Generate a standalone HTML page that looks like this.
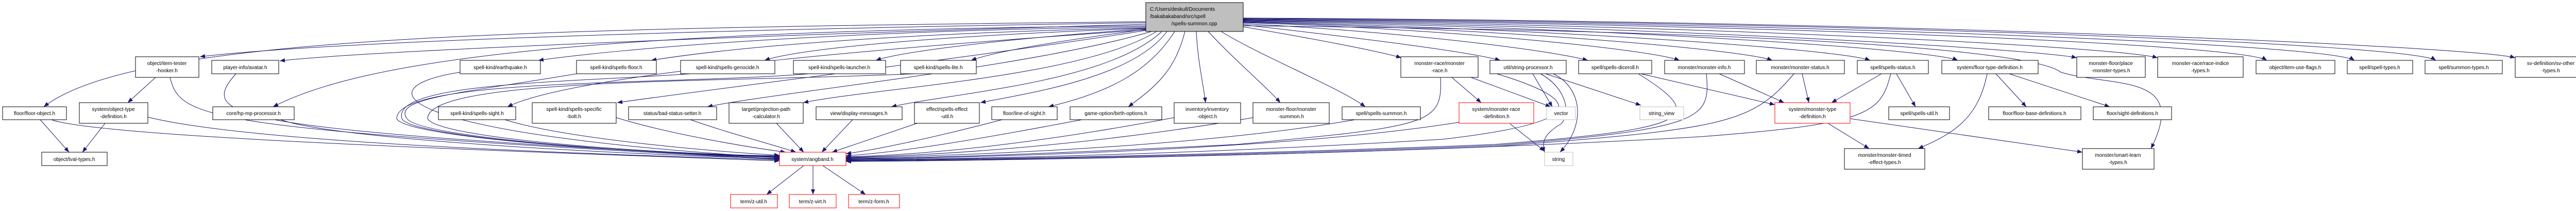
<!DOCTYPE html>
<html><head><meta charset="utf-8"><style>
html,body{margin:0;padding:0;background:#fff;}
svg{display:block;}
text{font-family:"Liberation Sans",sans-serif;font-size:10px;fill:#000;text-anchor:middle;}
.n{fill:#fff;stroke:#000;stroke-width:1;}
.g{fill:#fff;stroke:#bfbfbf;stroke-width:1;}
.r{fill:#fff;stroke:#ff0000;stroke-width:1;}
.e path{fill:none;stroke:#191970;stroke-width:1;}
</style></head><body>
<svg width="5026" height="409" viewBox="0 0 5026 409" xmlns="http://www.w3.org/2000/svg">
<defs><marker id="a" markerWidth="10" markerHeight="8" refX="10" refY="4" orient="auto" markerUnits="userSpaceOnUse"><path d="M0,0 L10,4 L0,8 z" fill="#191970"/></marker></defs>
<g class="e" marker-end="url(#a)">
<!-- root left -->
<path d="M2224 42 C1000 55,260 70,85 207" marker-end="url(#a)"/>
<path d="M2224 44 C1200 60,600 85,388 110" marker-end="url(#a)"/>
<path d="M2224 47 C1400 70,700 100,543 118" marker-end="url(#a)"/>
<path d="M2224 50 C1100 60,700 120,530 207" marker-end="url(#a)"/>
<path d="M2224 52 C1600 60,1200 95,1045 117" marker-end="url(#a)"/>
<path d="M2224 54 C1700 65,1400 95,1264 117" marker-end="url(#a)"/>
<path d="M2224 55 C1800 70,1550 95,1484 117" marker-end="url(#a)"/>
<path d="M2224 56 C1950 75,1750 100,1700 117" marker-end="url(#a)"/>
<path d="M2224 57 C2050 80,1930 100,1885 117" marker-end="url(#a)"/>
<path d="M2224 58 C1600 100,1100 150,985 207" marker-end="url(#a)"/>
<path d="M2224 59 C1900 110,1400 170,1198 199" marker-end="url(#a)"/>
<path d="M2235 61 C2000 130,1500 180,1373 207" marker-end="url(#a)"/>
<path d="M2245 61 C2100 150,1700 170,1559 199" marker-end="url(#a)"/>
<path d="M2255 61 C2150 160,1850 180,1730 207" marker-end="url(#a)"/>
<path d="M2265 61 C2200 150,2000 180,1903 199" marker-end="url(#a)"/>
<path d="M2280 61 C2230 140,2150 180,2035 207" marker-end="url(#a)"/>
<path d="M2300 61 C2280 140,2240 170,2190 207" marker-end="url(#a)"/>
<path d="M2322 61 C2325 120,2335 160,2340 199" marker-end="url(#a)"/>
<path d="M2345 61 C2400 120,2460 170,2485 199" marker-end="url(#a)"/>
<path d="M2370 61 C2450 110,2600 170,2650 207" marker-end="url(#a)"/>
<!-- root right -->
<path d="M2413 52 C2550 75,2680 100,2720 112" marker-end="url(#a)"/>
<path d="M2413 48 C2650 75,2850 100,2912 117" marker-end="url(#a)"/>
<path d="M2413 46 C2700 60,3000 95,3082 117" marker-end="url(#a)"/>
<path d="M2413 44 C2800 55,3200 95,3260 117" marker-end="url(#a)"/>
<path d="M2413 43 C2900 55,3380 95,3440 117" marker-end="url(#a)"/>
<path d="M2413 42 C3000 55,3570 95,3630 117" marker-end="url(#a)"/>
<path d="M2413 41 C3100 52,3750 95,3800 117" marker-end="url(#a)"/>
<path d="M2413 40 C3200 50,3950 95,4031 112" marker-end="url(#a)"/>
<path d="M2413 39 C3300 48,4100 90,4188 112" marker-end="url(#a)"/>
<path d="M2413 38 C3400 46,4350 85,4400 117" marker-end="url(#a)"/>
<path d="M2413 37 C3500 44,4520 85,4570 117" marker-end="url(#a)"/>
<path d="M2413 36 C3600 42,4680 85,4728 117" marker-end="url(#a)"/>
<path d="M2413 35 C3700 40,4800 90,4882 112" marker-end="url(#a)"/>
<path d="M2413 50 C3500 60,3950 100,4000 140 C4100 170,4250 140,4175 288" marker-end="url(#a)"/>
<!-- to angband -->
<path d="M100 232 C200 270,1200 300,1513 312" marker-end="url(#a)"/>
<path d="M287 227 C500 280,1200 300,1513 310" marker-end="url(#a)"/>
<path d="M330 150 C350 230,390 250,1513 309" marker-end="url(#a)"/>
<path d="M458 143 C380 230,450 250,1513 308" marker-end="url(#a)"/>
<path d="M545 232 C650 270,1200 300,1513 307" marker-end="url(#a)"/>
<path d="M893 140 C700 170,760 260,1513 306" marker-end="url(#a)"/>
<path d="M1119 143 C900 180,760 190,790 230 C820 270,1300 300,1513 305" marker-end="url(#a)"/>
<path d="M1340 143 C1100 160,760 160,780 230 C800 270,1300 300,1513 304" marker-end="url(#a)"/>
<path d="M1570 143 C1300 165,770 150,770 230 C790 270,1300 300,1513 303" marker-end="url(#a)"/>
<path d="M1775 143 C1400 160,830 150,830 230 C850 270,1300 300,1513 302" marker-end="url(#a)"/>
<path d="M980 232 C1100 270,1400 295,1513 301" marker-end="url(#a)"/>
<path d="M1196 228 C1300 260,1450 285,1525 295" marker-end="url(#a)"/>
<path d="M1340 232 C1420 260,1500 280,1545 295" marker-end="url(#a)"/>
<path d="M1507 239 L1560 295" marker-end="url(#a)"/>
<path d="M1655 232 L1595 295" marker-end="url(#a)"/>
<path d="M1780 239 L1615 295" marker-end="url(#a)"/>
<path d="M1945 232 C1800 270,1700 290,1642 298" marker-end="url(#a)"/>
<path d="M2100 232 C1900 270,1750 295,1642 302" marker-end="url(#a)"/>
<path d="M2279 228 C2000 280,1800 300,1642 304" marker-end="url(#a)"/>
<path d="M2432 228 C2100 285,1800 302,1642 305" marker-end="url(#a)"/>
<path d="M2630 232 C2300 290,1800 303,1642 306" marker-end="url(#a)"/>
<path d="M2796 150 C2800 240,2780 245,2400 280 C2000 300,1800 306,1642 307" marker-end="url(#a)"/>
<path d="M2832 237 C2500 290,1900 306,1642 308" marker-end="url(#a)"/>
<path d="M2895 140 C3100 200,3060 240,2800 270 C2300 300,1900 308,1642 309" marker-end="url(#a)"/>
<path d="M3180 143 C3320 230,3280 250,2900 280 C2400 300,1900 309,1642 310" marker-end="url(#a)"/>
<path d="M3312 143 C3320 230,3310 250,2900 282 C2400 302,1900 310,1642 311" marker-end="url(#a)"/>
<path d="M3482 143 C3400 240,3350 250,2900 284 C2400 304,1900 311,1642 312" marker-end="url(#a)"/>
<path d="M3670 143 C3650 220,3630 240,3300 265 C2700 300,1900 312,1642 313" marker-end="url(#a)"/>
<path d="M1560 321 L1488 377" marker-end="url(#a)"/>
<path d="M1578 321 L1578 377" marker-end="url(#a)"/>
<path d="M1597 321 L1680 377" marker-end="url(#a)"/>
<!-- misc -->
<path d="M302 150 L248 199" marker-end="url(#a)"/>
<path d="M78 232 L134 295" marker-end="url(#a)"/>
<path d="M204 239 L160 295" marker-end="url(#a)"/>
<path d="M2818 150 L2875 199" marker-end="url(#a)"/>
<path d="M2855 150 L3010 207" marker-end="url(#a)"/>
<path d="M2975 143 L3013 207" marker-end="url(#a)"/>
<path d="M3000 143 L3185 204" marker-end="url(#a)"/>
<path d="M2990 143 C3040 170,3050 220,3030 240 C3005 255,2990 270,2998 295" marker-end="url(#a)"/>
<path d="M3015 143 C3070 170,3080 240,3028 295" marker-end="url(#a)"/>
<path d="M2931 240 L2998 293" marker-end="url(#a)"/>
<path d="M3185 143 L3445 203" marker-end="url(#a)"/>
<path d="M3337 143 L3463 199" marker-end="url(#a)"/>
<path d="M3498 143 L3511 199" marker-end="url(#a)"/>
<path d="M3652 143 L3555 199" marker-end="url(#a)"/>
<path d="M3681 143 L3718 207" marker-end="url(#a)"/>
<path d="M3857 143 C3840 230,3790 260,3723 288" marker-end="url(#a)"/>
<path d="M3874 143 L3933 207" marker-end="url(#a)"/>
<path d="M3900 143 L4095 207" marker-end="url(#a)"/>
<path d="M3548 239 L3628 288" marker-end="url(#a)"/>
<path d="M3591 230 L4042 295" marker-end="url(#a)"/>
</g>
<!-- nodes -->
<rect x="2224" y="5" width="189" height="56" fill="#bfbfbf" stroke="#000"/>
<text x="2232" y="21" style="text-anchor:start">C:/Users/deskull/Documents</text>
<text x="2232" y="35" style="text-anchor:start">/bakabakaband/src/spell</text>
<text x="2318" y="49">/spells-summon.cpp</text>

<rect class="n" x="263" y="110" width="123" height="40"/><text x="324" y="126">object/item-tester</text><text x="324" y="140">-hooker.h</text>
<rect class="n" x="411" y="117" width="130" height="26"/><text x="476" y="134">player-info/avatar.h</text>
<rect class="n" x="5" y="207" width="124" height="25"/><text x="67" y="223">floor/floor-object.h</text>
<rect class="n" x="154" y="199" width="133" height="40"/><text x="220" y="215">system/object-type</text><text x="220" y="229">-definition.h</text>
<rect class="n" x="81" y="295" width="127" height="26"/><text x="144" y="312">object/tval-types.h</text>
<rect class="n" x="413" y="207" width="158" height="25"/><text x="492" y="223">core/hp-mp-processor.h</text>
<rect class="n" x="851" y="207" width="150" height="25"/><text x="926" y="223">spell-kind/spells-sight.h</text>
<rect class="n" x="893" y="117" width="156" height="26"/><text x="971" y="134">spell-kind/earthquake.h</text>
<rect class="n" x="1119" y="117" width="155" height="26"/><text x="1196" y="134">spell-kind/spells-floor.h</text>
<rect class="n" x="1321" y="117" width="183" height="26"/><text x="1412" y="134">spell-kind/spells-genocide.h</text>
<rect class="n" x="1540" y="117" width="179" height="26"/><text x="1629" y="134">spell-kind/spells-launcher.h</text>
<rect class="n" x="1748" y="117" width="147" height="26"/><text x="1821" y="134">spell-kind/spells-lite.h</text>
<rect class="n" x="1033" y="199" width="163" height="40"/><text x="1114" y="215">spell-kind/spells-specific</text><text x="1114" y="229">-bolt.h</text>
<rect class="n" x="1220" y="207" width="171" height="25"/><text x="1305" y="223">status/bad-status-setter.h</text>
<rect class="n" x="1415" y="199" width="144" height="40"/><text x="1487" y="215">target/projection-path</text><text x="1487" y="229">-calculator.h</text>
<rect class="n" x="1584" y="207" width="167" height="25"/><text x="1667" y="223">view/display-messages.h</text>
<rect class="n" x="1775" y="199" width="126" height="40"/><text x="1838" y="215">effect/spells-effect</text><text x="1838" y="229">-util.h</text>
<rect class="n" x="1925" y="207" width="127" height="25"/><text x="1988" y="223">floor/line-of-sight.h</text>
<rect class="r" x="1513" y="295" width="129" height="26"/><text x="1577" y="312">system/angband.h</text>
<rect class="r" x="1418" y="377" width="91" height="26"/><text x="1463" y="394">term/z-util.h</text>
<rect class="r" x="1532" y="377" width="91" height="26"/><text x="1577" y="394">term/z-virt.h</text>
<rect class="r" x="1647" y="377" width="99" height="26"/><text x="1696" y="394">term/z-form.h</text>
<rect class="n" x="2077" y="207" width="178" height="25"/><text x="2166" y="223">game-option/birth-options.h</text>
<rect class="n" x="2279" y="199" width="129" height="40"/><text x="2343" y="215">inventory/inventory</text><text x="2343" y="229">-object.h</text>
<rect class="n" x="2432" y="199" width="148" height="40"/><text x="2506" y="215">monster-floor/monster</text><text x="2506" y="229">-summon.h</text>
<rect class="n" x="2605" y="207" width="152" height="25"/><text x="2681" y="223">spell/spells-summon.h</text>
<rect class="n" x="2719" y="110" width="150" height="40"/><text x="2794" y="126">monster-race/monster</text><text x="2794" y="140">-race.h</text>
<rect class="n" x="2892" y="117" width="148" height="26"/><text x="2966" y="134">util/string-processor.h</text>
<rect class="r" x="2832" y="199" width="145" height="40"/><text x="2904" y="215">system/monster-race</text><text x="2904" y="229">-definition.h</text>
<rect class="g" x="3002" y="207" width="56" height="25"/><text x="3030" y="223">vector</text>
<rect class="g" x="2998" y="295" width="55" height="26"/><text x="3025" y="312">string</text>
<rect class="g" x="3183" y="207" width="85" height="25"/><text x="3225" y="223">string_view</text>
<rect class="n" x="3064" y="117" width="142" height="26"/><text x="3135" y="134">spell/spells-diceroll.h</text>
<rect class="n" x="3231" y="117" width="155" height="26"/><text x="3308" y="134">monster/monster-info.h</text>
<rect class="n" x="3409" y="117" width="171" height="26"/><text x="3494" y="134">monster/monster-status.h</text>
<rect class="n" x="3605" y="117" width="138" height="26"/><text x="3674" y="134">spell/spells-status.h</text>
<rect class="n" x="3769" y="117" width="187" height="26"/><text x="3862" y="134">system/floor-type-definition.h</text>
<rect class="r" x="3445" y="199" width="146" height="40"/><text x="3518" y="215">system/monster-type</text><text x="3518" y="229">-definition.h</text>
<rect class="n" x="3666" y="207" width="118" height="25"/><text x="3725" y="223">spell/spells-util.h</text>
<rect class="n" x="3860" y="207" width="179" height="25"/><text x="3949" y="223">floor/floor-base-definitions.h</text>
<rect class="n" x="3580" y="288" width="156" height="40"/><text x="3658" y="304">monster/monster-timed</text><text x="3658" y="318">-effect-types.h</text>
<rect class="n" x="4063" y="207" width="152" height="25"/><text x="4139" y="223">floor/sight-definitions.h</text>
<rect class="n" x="4042" y="288" width="139" height="40"/><text x="4111" y="304">monster/smart-learn</text><text x="4111" y="318">-types.h</text>
<rect class="n" x="4031" y="110" width="133" height="40"/><text x="4097" y="126">monster-floor/place</text><text x="4097" y="140">-monster-types.h</text>
<rect class="n" x="4188" y="110" width="166" height="40"/><text x="4271" y="126">monster-race/race-indice</text><text x="4271" y="140">-types.h</text>
<rect class="n" x="4379" y="117" width="153" height="26"/><text x="4455" y="134">object/item-use-flags.h</text>
<rect class="n" x="4556" y="117" width="127" height="26"/><text x="4619" y="134">spell/spell-types.h</text>
<rect class="n" x="4707" y="117" width="150" height="26"/><text x="4782" y="134">spell/summon-types.h</text>
<rect class="n" x="4882" y="110" width="139" height="40"/><text x="4951" y="126">sv-definition/sv-other</text><text x="4951" y="140">-types.h</text>
</svg>
</body></html>
